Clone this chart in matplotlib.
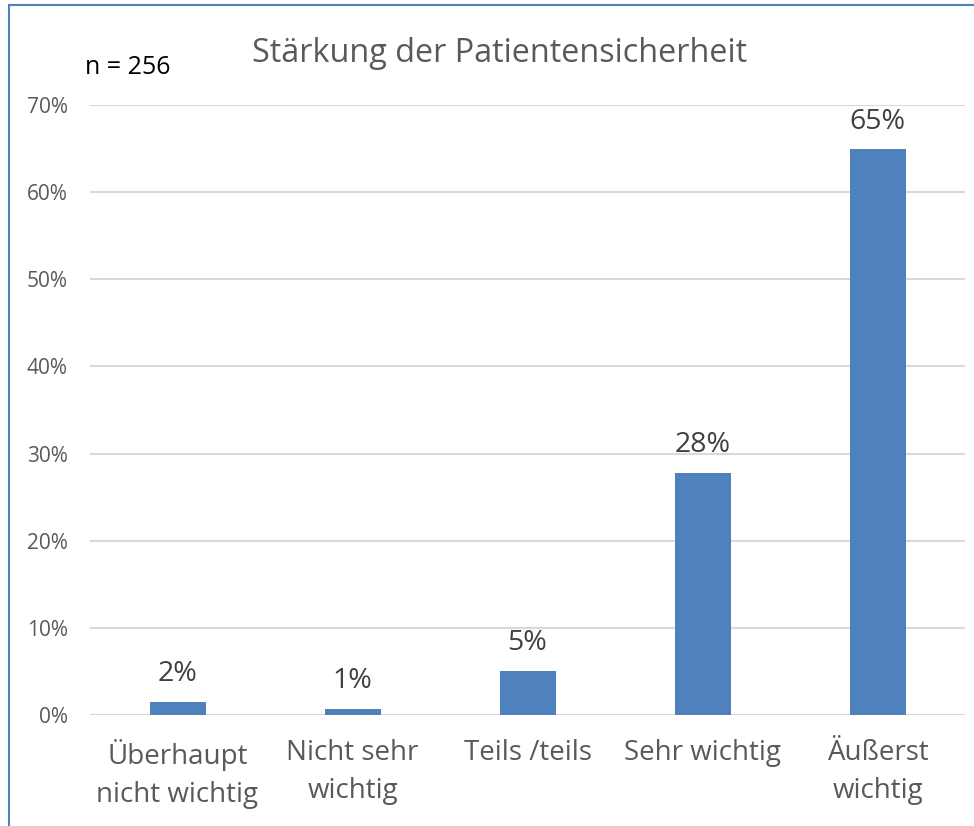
import matplotlib.pyplot as plt
from matplotlib.patches import Rectangle
import numpy as np

plt.rcParams["font.family"] = ["Open Sans", "DejaVu Sans"]

categories = ["Überhaupt\nnicht wichtig", "Nicht sehr\nwichtig", "Teils /teils",
              "Sehr wichtig", "Äußerst\nwichtig"]
shares = [0.015, 0.007, 0.051, 0.278, 0.649]
share_labels = ["2%", "1%", "5%", "28%", "65%"]
y_ticks = [0.0, 0.1, 0.2, 0.3, 0.4, 0.5, 0.6, 0.7]

BAR = "#4f81bd"
GRID = "#d9d9d9"
TEXT = "#595959"

W, H = 974, 826
fig = plt.figure(figsize=(W / 100, H / 100), dpi=100)
ax = fig.add_axes([90 / W, 111 / H, 875 / W, 610 / H])

x = np.arange(len(categories))
ax.bar(x, shares, width=0.32, color=BAR, zorder=3)
for xi, v, lab in zip(x, shares, share_labels):
    ax.annotate(lab, (xi, v), xytext=(0, 10), textcoords="offset points",
                ha="center", va="bottom", fontsize=20.5, color="#404040")

ax.set_xlim(-0.5, len(categories) - 0.5)
ax.set_ylim(0, 0.7)
ax.set_yticks(y_ticks)
ax.set_yticklabels([f"{int(round(t * 100))}%" for t in y_ticks])
ax.yaxis.grid(True, color=GRID, linewidth=1.5, zorder=0)
ax.set_xticks(x)
ax.set_xticklabels(categories, fontsize=20, color=TEXT, linespacing=1.5)
ax.tick_params(axis="x", length=0, pad=17)
ax.tick_params(axis="y", length=0, pad=16, labelsize=15, labelcolor=TEXT)
for s in ax.spines.values():
    s.set_visible(False)

fig.text(500 / W, 1 - 54 / H, "Stärkung der Patientensicherheit", ha="center",
         va="center", fontsize=23.3, color=TEXT)
fig.text(85 / W, 1 - 67 / H, "n = 256", ha="left", va="center", fontsize=18,
         color="black")

# chart frame, cut off at right and bottom like the screenshot
fig.patches.append(Rectangle((9 / W, -0.1), 1.2, 1 - 5 / H + 0.1,
                             transform=fig.transFigure, fill=False,
                             edgecolor="#4f81bd", linewidth=1.5))

fig.savefig("out.png", dpi=100)
